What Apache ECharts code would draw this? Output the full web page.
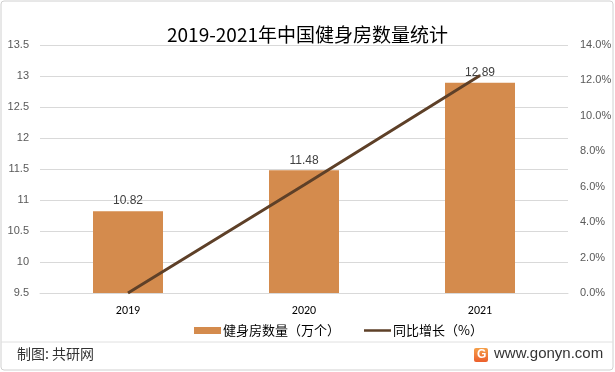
<!DOCTYPE html>
<html><head><meta charset="utf-8">
<script src="https://cdn.jsdelivr.net/npm/echarts@6/dist/echarts.min.js"></script>
<style>html,body{margin:0;padding:0;background:#fff}#c{width:615px;height:372px}</style>
</head><body><div id="c"></div>
<script>
const categories = ['2019', '2020', '2021'];
const gymCount = [10.82, 11.48, 12.89];
const yoyGrowth = [0, 6.1, 12.28];
const leftTicks = {min: 9.5, max: 13.5, interval: 0.5};
const rightTicks = {min: 0, max: 14, interval: 2};

const chart = echarts.init(document.getElementById('c'));
const font = '"Microsoft YaHei","Noto Sans CJK SC",sans-serif';
chart.setOption({
  animation: false,
  title: {text: '2019-2021年中国健身房数量统计', left: 'center', top: 20,
    textStyle: {fontSize: 19, fontWeight: 'normal', color: '#000', fontFamily: font}},
  grid: {left: 40, right: 47, top: 45, bottom: 79, outerBoundsMode: 'none', containLabel: false},
  legend: {top: 319, left: 189, itemGap: 24, itemWidth: 27, itemHeight: 7,
    textStyle: {fontSize: 13, color: '#000', fontFamily: font, padding: [0, 0, 0, -3]},
    data: [
      {name: '健身房数量（万个）', icon: 'rect'},
      {name: '同比增长（%）', icon: 'path://M0,0H0.05V0.05H0Z M0,2.2H27V4.8H0Z M26.95,6.95H27V7H26.95Z'}
    ]},
  xAxis: {type: 'category', data: categories,
    axisLine: {lineStyle: {color: '#d9d9d9'}}, axisTick: {show: false},
    axisLabel: {color: '#000', fontSize: 12, margin: 12, fontFamily: 'Carlito,Calibri,"Liberation Sans",sans-serif'}},
  yAxis: [
    {type: 'value', min: leftTicks.min, max: leftTicks.max, interval: leftTicks.interval,
      axisLabel: {color: '#595959', fontSize: 11, margin: 11, formatter: v => String(v)},
      splitLine: {lineStyle: {color: '#d9d9d9'}}, axisLine: {show: false}, axisTick: {show: false}},
    {type: 'value', min: rightTicks.min, max: rightTicks.max, interval: rightTicks.interval,
      axisLabel: {color: '#595959', fontSize: 11, margin: 12, formatter: v => v.toFixed(1) + '%'},
      splitLine: {show: false}, axisLine: {show: false}, axisTick: {show: false}}
  ],
  series: [
    {name: '健身房数量（万个）', type: 'bar', data: gymCount, barWidth: 70,
      itemStyle: {color: '#D48B4D'},
      label: {show: true, position: 'top', color: '#404040', fontSize: 12, distance: 4}},
    {name: '同比增长（%）', type: 'line', yAxisIndex: 1, data: yoyGrowth,
      symbol: 'none', lineStyle: {color: '#5E4028', width: 3}, itemStyle: {color: '#5E4028'}}
  ],
  graphic: [
    {type: 'rect', shape: {x: 1, y: 1, width: 612, height: 369, r: 3},
      style: {fill: 'none', stroke: '#d0d0d0', lineWidth: 1}},
    {type: 'line', shape: {x1: 1, y1: 342, x2: 613, y2: 342}, style: {stroke: '#e0e0e0', lineWidth: 1}},
    {type: 'text', left: 17, top: 347, style: {text: '制图: 共研网', fontSize: 14, fill: '#333', fontFamily: font}},
    {type: 'rect', shape: {x: 474, y: 348, width: 14, height: 14, r: 2},
      style: {fill: new echarts.graphic.LinearGradient(0, 0, 0, 1, [{offset: 0, color: '#F5A04A'}, {offset: 1, color: '#EC5F2C'}])}},
    {type: 'text', x: 477, y: 349, style: {text: 'G', fontSize: 12, fontWeight: 'bold', fill: '#fff'}},
    {type: 'text', left: 494, top: 346, style: {text: 'www.gonyn.com', fontSize: 15, fill: '#333', fontFamily: '"Liberation Sans",Arial,sans-serif'}}
  ]
});
</script></body></html>
